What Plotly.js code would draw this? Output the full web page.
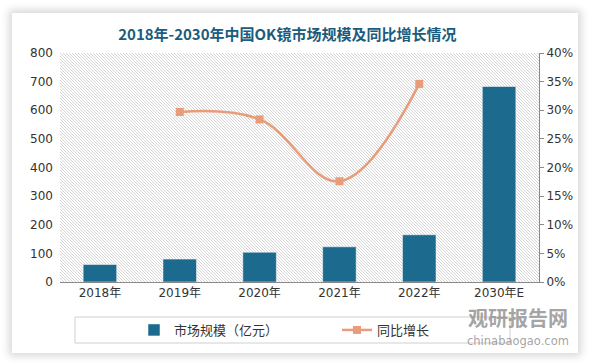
<!DOCTYPE html>
<html>
<head>
<meta charset="utf-8">
<script src="https://cdn.plot.ly/plotly-3.0.1.min.js"></script>
<style>
html,body{margin:0;padding:0;background:#fff;width:590px;height:363px;overflow:hidden;}
#card{position:absolute;left:12px;top:13px;width:566px;height:340px;background:#fff;box-shadow:0 0 8px 3px rgba(0,0,0,0.16);}
#hatch{position:absolute;left:60px;top:53px;width:479px;height:229px;
  background-image:url("data:image/svg+xml,%3Csvg xmlns='http://www.w3.org/2000/svg' width='3' height='3'%3E%3Cpath d='M-1,-1 L4,4 M-1,2 L1,4 M2,-1 L4,1' stroke='%23d0d0d0' stroke-width='0.9'/%3E%3C/svg%3E");
  background-size:3px 3px;background-repeat:repeat;}
#chart{position:absolute;left:0;top:0;width:590px;height:363px;}
</style>
</head>
<body>
<div id="card"></div>
<div id="hatch"></div>
<div id="chart"></div>
<script>
const categories = ['2018年','2019年','2020年','2021年','2022年','2030年E'];
const marketSize = [61, 80, 104, 123, 165, 683];
const growthCats = ['2019年','2020年','2021年','2022年'];
const growthRate = [0.297, 0.284, 0.176, 0.346];
const leftTicks = [0,100,200,300,400,500,600,700,800];
const rightTicks = [0,0.05,0.10,0.15,0.20,0.25,0.30,0.35,0.40];

const barTrace = {
  type:'bar', x:categories, y:marketSize, name:'市场规模（亿元）',
  marker:{color:'#1C6A8E', line:{color:'#ffffff', width:0.5}},
  width:0.42, yaxis:'y', hoverinfo:'none', legend:'legend'
};
const lineTrace = {
  type:'scatter', mode:'lines+markers', x:growthCats, y:growthRate, name:'同比增长',
  line:{color:'#E89C7A', width:2.5, shape:'spline', smoothing:1.1},
  marker:{symbol:'square', size:8, color:'#E89C7A'},
  yaxis:'y2', hoverinfo:'none', legend:'legend2'
};

const W = 479, H = 229, L = 60, T = 53;
function px(x){ return (x - L) / W; }
function py(y){ return (T + H - y) / H; }

const legendFont = {family:'"Noto Sans CJK SC", sans-serif', size:13, color:'#333'};

const layout = {
  width:590, height:363,
  paper_bgcolor:'rgba(0,0,0,0)', plot_bgcolor:'rgba(0,0,0,0)',
  margin:{l:60, r:51, t:53, b:81},
  title:{text:'2018年-2030年中国OK镜市场规模及同比增长情况', x:0.487, xanchor:'center', y:1-35/363, yanchor:'middle',
    font:{family:'"Noto Sans CJK SC", sans-serif', size:15, color:'#1B5C7E', weight:'bold'}},
  font:{family:'"DejaVu Sans","Noto Sans CJK SC", sans-serif', size:12, color:'#333'},
  showlegend:true,
  legend:{orientation:'h', x:px(134), xanchor:'left', y:py(330), yanchor:'middle', font:legendFont, bgcolor:'rgba(0,0,0,0)'},
  legend2:{orientation:'h', x:px(337), xanchor:'left', y:py(330), yanchor:'middle', font:legendFont, bgcolor:'rgba(0,0,0,0)'},
  xaxis:{type:'category', categoryorder:'array', categoryarray:categories, showline:true, linecolor:'#8a8a8a', linewidth:1,
    ticks:'', showgrid:false, tickfont:{family:'"DejaVu Sans","Noto Sans CJK SC", sans-serif', size:12, color:'#333'}},
  yaxis:{range:[0,800], tickvals:leftTicks, showgrid:false, zeroline:false, showline:false, ticks:'',
    tickfont:{size:12, color:'#333'}, ticklabelstandoff:6},
  yaxis2:{overlaying:'y', side:'right', range:[0,0.40], tickvals:rightTicks, tickformat:'.0%', showgrid:false, zeroline:false,
    showline:true, linecolor:'#8a8a8a', linewidth:1, ticks:'outside', ticklen:4, tickcolor:'#8a8a8a',
    tickfont:{size:12, color:'#333'}},
  shapes:[
    {type:'rect', xref:'paper', yref:'paper', x0:px(75), x1:px(510), y0:py(343), y1:py(317),
      line:{color:'#d0d0d0', width:1}, fillcolor:'rgba(0,0,0,0)', layer:'below'}
  ],
  annotations:[
    {xref:'paper', yref:'paper', x:px(518), y:py(317), xanchor:'center', yanchor:'middle', showarrow:false,
      text:'<b>观研报告网</b>', font:{family:'"Noto Sans CJK SC", sans-serif', size:20, color:'rgba(140,140,140,0.8)'}},
    {xref:'paper', yref:'paper', x:px(518), y:py(341), xanchor:'center', yanchor:'middle', showarrow:false,
      text:'chinabaogao.com', font:{family:'"DejaVu Sans", sans-serif', size:11.5, color:'rgba(140,140,140,0.8)'}}
  ]
};

Plotly.newPlot('chart', [barTrace, lineTrace], layout, {staticPlot:true, displayModeBar:false});
</script>
</body>
</html>
